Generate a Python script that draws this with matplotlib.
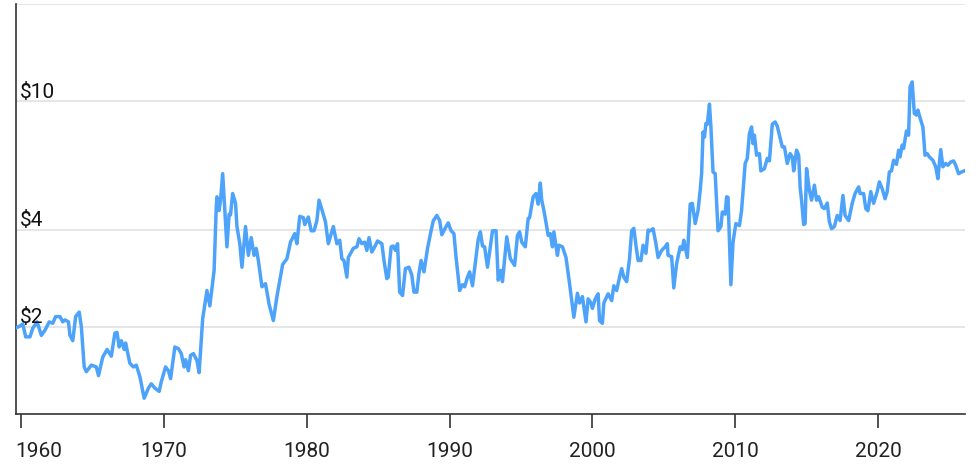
import matplotlib
matplotlib.use("Agg")
import matplotlib.pyplot as plt
import matplotlib.transforms as mtransforms

# monthly-ish price trace (decimal year, USD)
years = [
    1959.6, 1959.9, 1960.1, 1960.3, 1960.6, 1960.8, 1961.1, 1961.4, 1961.65, 1961.95,
    1962.2, 1962.4, 1962.7, 1962.9, 1963.05, 1963.3, 1963.4, 1963.6, 1963.8, 1964.05,
    1964.2, 1964.4, 1964.55, 1964.9, 1965.25, 1965.4, 1965.7, 1966.0, 1966.3, 1966.55,
    1966.7, 1966.85, 1967.0, 1967.2, 1967.3, 1967.6, 1967.85, 1968.05, 1968.3, 1968.6,
    1968.9, 1969.1, 1969.35, 1969.65, 1969.8, 1970.1, 1970.3, 1970.45, 1970.75, 1971.0,
    1971.2, 1971.4, 1971.5, 1971.7, 1971.85, 1972.05, 1972.3, 1972.45, 1972.7, 1973.0,
    1973.2, 1973.5, 1973.65, 1973.7, 1973.85, 1973.95, 1974.1, 1974.4, 1974.55, 1974.65,
    1974.8, 1975.0, 1975.1, 1975.3, 1975.45, 1975.7, 1975.9, 1976.1, 1976.3, 1976.45,
    1976.6, 1976.85, 1977.1, 1977.35, 1977.65, 1977.9, 1978.05, 1978.3, 1978.6, 1978.85,
    1979.15, 1979.3, 1979.5, 1979.75, 1979.85, 1980.1, 1980.3, 1980.5, 1980.7, 1980.85,
    1981.1, 1981.3, 1981.5, 1981.85, 1982.1, 1982.3, 1982.45, 1982.6, 1982.8, 1982.9,
    1983.25, 1983.5, 1983.65, 1983.85, 1984.05, 1984.2, 1984.35, 1984.55, 1984.75, 1984.95,
    1985.25, 1985.4, 1985.6, 1985.7, 1985.9, 1986.05, 1986.2, 1986.35, 1986.5, 1986.7,
    1986.9, 1987.15, 1987.35, 1987.5, 1987.7, 1987.85, 1988.0, 1988.2, 1988.45, 1988.7,
    1988.85, 1989.1, 1989.3, 1989.45, 1989.75, 1989.9, 1990.1, 1990.3, 1990.45, 1990.7,
    1990.9, 1991.05, 1991.25, 1991.4, 1991.6, 1991.75, 1992.0, 1992.15, 1992.3, 1992.45,
    1992.65, 1992.8, 1993.0, 1993.25, 1993.4, 1993.6, 1993.7, 1994.0, 1994.25, 1994.55,
    1994.75, 1994.9, 1995.05, 1995.3, 1995.5, 1995.6, 1995.85, 1996.05, 1996.2, 1996.35,
    1996.45, 1996.6, 1996.8, 1996.9, 1997.05, 1997.2, 1997.3, 1997.55, 1997.65, 1997.9,
    1998.15, 1998.4, 1998.7, 1998.95, 1999.1, 1999.3, 1999.55, 1999.7, 1999.9, 2000.0,
    2000.2, 2000.4, 2000.5, 2000.7, 2000.8, 2001.1, 2001.35, 2001.5, 2001.7, 2001.9,
    2002.05, 2002.2, 2002.4, 2002.6, 2002.75, 2002.9, 2003.05, 2003.2, 2003.4, 2003.55,
    2003.75, 2003.9, 2004.05, 2004.25, 2004.45, 2004.6, 2004.85, 2005.1, 2005.25, 2005.3,
    2005.55, 2005.7, 2005.9, 2006.15, 2006.3, 2006.4, 2006.65, 2006.85, 2007.0, 2007.2,
    2007.4, 2007.55, 2007.65, 2007.75, 2007.85, 2007.95, 2008.05, 2008.2, 2008.3, 2008.45,
    2008.6, 2008.8, 2009.0, 2009.1, 2009.3, 2009.4, 2009.5, 2009.7, 2009.85, 2010.05,
    2010.3, 2010.45, 2010.7, 2010.85, 2011.0, 2011.15, 2011.25, 2011.35, 2011.5, 2011.7,
    2011.8, 2012.05, 2012.25, 2012.4, 2012.6, 2012.8, 2012.95, 2013.1, 2013.3, 2013.45,
    2013.65, 2013.85, 2014.0, 2014.1, 2014.3, 2014.45, 2014.55, 2014.65, 2014.8, 2014.9,
    2015.0, 2015.2, 2015.35, 2015.55, 2015.7, 2015.85, 2016.1, 2016.25, 2016.45, 2016.6,
    2016.75, 2016.95, 2017.15, 2017.35, 2017.55, 2017.7, 2017.95, 2018.2, 2018.4, 2018.65,
    2018.75, 2019.0, 2019.15, 2019.3, 2019.5, 2019.7, 2019.95, 2020.1, 2020.3, 2020.5,
    2020.65, 2020.8, 2020.95, 2021.1, 2021.3, 2021.45, 2021.55, 2021.7, 2021.8, 2022.0,
    2022.15, 2022.25, 2022.4, 2022.55, 2022.7, 2022.8, 2023.0, 2023.15, 2023.3, 2023.45,
    2023.6, 2023.85, 2024.05, 2024.2, 2024.4, 2024.55, 2024.75, 2024.9, 2025.1, 2025.3,
    2025.45, 2025.65, 2025.85, 2026.05,
]
prices = [
    1.98, 2.01, 2.04, 1.86, 1.86, 1.98, 2.07, 1.88, 1.95, 2.07,
    2.05, 2.15, 2.15, 2.07, 2.10, 2.07, 1.88, 1.81, 2.15, 2.22,
    2.00, 1.50, 1.45, 1.52, 1.50, 1.41, 1.61, 1.70, 1.62, 1.91,
    1.92, 1.73, 1.81, 1.70, 1.78, 1.54, 1.50, 1.52, 1.40, 1.20,
    1.29, 1.33, 1.29, 1.26, 1.35, 1.50, 1.46, 1.38, 1.73, 1.71,
    1.65, 1.50, 1.58, 1.46, 1.63, 1.65, 1.57, 1.44, 2.12, 2.59,
    2.32, 2.99, 4.70, 5.06, 4.59, 4.94, 5.97, 3.54, 4.47, 4.45,
    5.18, 4.83, 4.09, 3.62, 3.06, 4.09, 3.33, 3.78, 3.33, 3.50,
    3.21, 2.66, 2.72, 2.35, 2.09, 2.48, 2.70, 3.12, 3.25, 3.66,
    3.89, 3.62, 4.40, 4.36, 4.15, 4.38, 3.97, 3.97, 4.27, 4.94,
    4.54, 4.23, 3.62, 4.09, 3.62, 3.71, 3.25, 3.21, 2.85, 3.28,
    3.50, 3.54, 3.75, 3.62, 3.66, 3.45, 3.78, 3.41, 3.54, 3.69,
    3.62, 3.21, 2.82, 2.85, 3.54, 3.56, 3.45, 3.62, 2.56, 2.50,
    3.03, 3.06, 2.89, 2.56, 2.56, 2.93, 3.21, 2.96, 3.50, 3.97,
    4.26, 4.43, 4.27, 3.86, 4.09, 4.20, 3.97, 3.89, 3.28, 2.59,
    2.70, 2.66, 2.85, 2.96, 2.68, 3.03, 3.73, 3.94, 3.56, 3.54,
    3.06, 3.41, 3.97, 3.97, 2.79, 2.99, 2.76, 3.80, 3.25, 3.10,
    3.84, 3.94, 3.66, 3.54, 4.33, 4.36, 5.06, 5.18, 4.80, 5.58,
    4.94, 4.59, 4.09, 3.84, 3.89, 3.54, 3.94, 3.33, 3.58, 3.54,
    3.28, 2.72, 2.14, 2.54, 2.37, 2.48, 2.07, 2.44, 2.37, 2.28,
    2.44, 2.53, 2.09, 2.05, 2.37, 2.53, 2.41, 2.68, 2.59, 2.85,
    3.03, 2.85, 2.76, 3.25, 3.97, 4.04, 3.58, 3.21, 3.21, 3.58,
    3.38, 3.99, 3.97, 4.03, 3.62, 3.28, 3.45, 3.54, 3.62, 3.33,
    3.30, 2.64, 3.14, 3.54, 3.47, 3.71, 3.28, 4.80, 4.83, 4.18,
    4.59, 5.30, 5.97, 8.04, 7.76, 8.54, 8.50, 9.81, 8.34, 6.04,
    5.97, 3.97, 4.09, 4.54, 4.47, 5.06, 5.04, 2.70, 3.66, 4.18,
    4.12, 4.59, 6.42, 6.66, 7.96, 8.34, 7.40, 7.86, 6.81, 6.89,
    6.09, 6.19, 6.66, 6.54, 8.50, 8.64, 8.38, 7.86, 7.23, 7.23,
    6.42, 6.89, 6.73, 6.09, 7.06, 6.81, 5.43, 4.94, 4.15, 4.18,
    6.19, 5.30, 4.94, 5.50, 4.94, 5.06, 4.70, 4.65, 4.84, 4.23,
    4.03, 4.09, 4.43, 4.27, 5.11, 4.43, 4.27, 4.83, 5.18, 5.43,
    5.18, 5.18, 4.65, 4.58, 5.25, 4.83, 5.25, 5.63, 5.36, 4.99,
    5.25, 6.04, 6.09, 6.57, 6.38, 7.06, 6.73, 7.32, 7.15, 8.10,
    7.86, 11.1, 11.5, 9.18, 9.07, 9.40, 8.75, 8.34, 6.81, 6.89,
    6.73, 6.57, 6.27, 5.76, 7.09, 6.27, 6.42, 6.34, 6.49, 6.54,
    6.34, 5.97, 6.04, 6.09,
]

grid_values = [2, 4, 10, 20]
label_values = [2, 4, 10]
label_texts = ["$2", "$4", "$10"]
tick_years = [1960, 1970, 1980, 1990, 2000, 2010, 2020]

plt.rcParams["font.family"] = ["Roboto", "DejaVu Sans"]

fig = plt.figure(figsize=(9.8, 4.75), dpi=100)
ax = fig.add_axes([0.016, 0.129, 0.9684, 0.8626])

ax.plot(years, prices, color="#4da3fa", linewidth=2.5, solid_joinstyle="round", zorder=3)

ax.set_yscale("log")
ax.set_ylim(1.074, 20.07)
ax.set_xlim(1959.6, 2026.08)

for v in grid_values:
    ax.axhline(v, color="#e4e4e4", linewidth=1.3, zorder=1)

trans = mtransforms.blended_transform_factory(ax.transAxes, ax.transData)
for v, t in zip(label_values, label_texts):
    ax.annotate(t, xy=(0, v), xycoords=trans, xytext=(3, 2.5), textcoords="offset points",
                ha="left", va="baseline", fontsize=15, color="#111111", zorder=4)

ax.set_yticks([])
ax.yaxis.set_minor_locator(matplotlib.ticker.NullLocator())
ax.set_xticks(tick_years)
ax.set_xticklabels([str(y) for y in tick_years])
ax.tick_params(axis="x", length=10, width=1.2, color="#333333", pad=10.5,
               labelsize=15, labelcolor="#222222")

# first label is pushed right so it stays inside the figure, as in the original
first = ax.get_xticklabels()[0]
first.set_ha("left")
first.set_transform(first.get_transform()
                    + mtransforms.ScaledTranslation(-0.06, 0, fig.dpi_scale_trans))

for side in ["top", "right"]:
    ax.spines[side].set_visible(False)
for side in ["left", "bottom"]:
    ax.spines[side].set_color("#333333")
    ax.spines[side].set_linewidth(1.2)

fig.savefig("out.png", dpi=100)
